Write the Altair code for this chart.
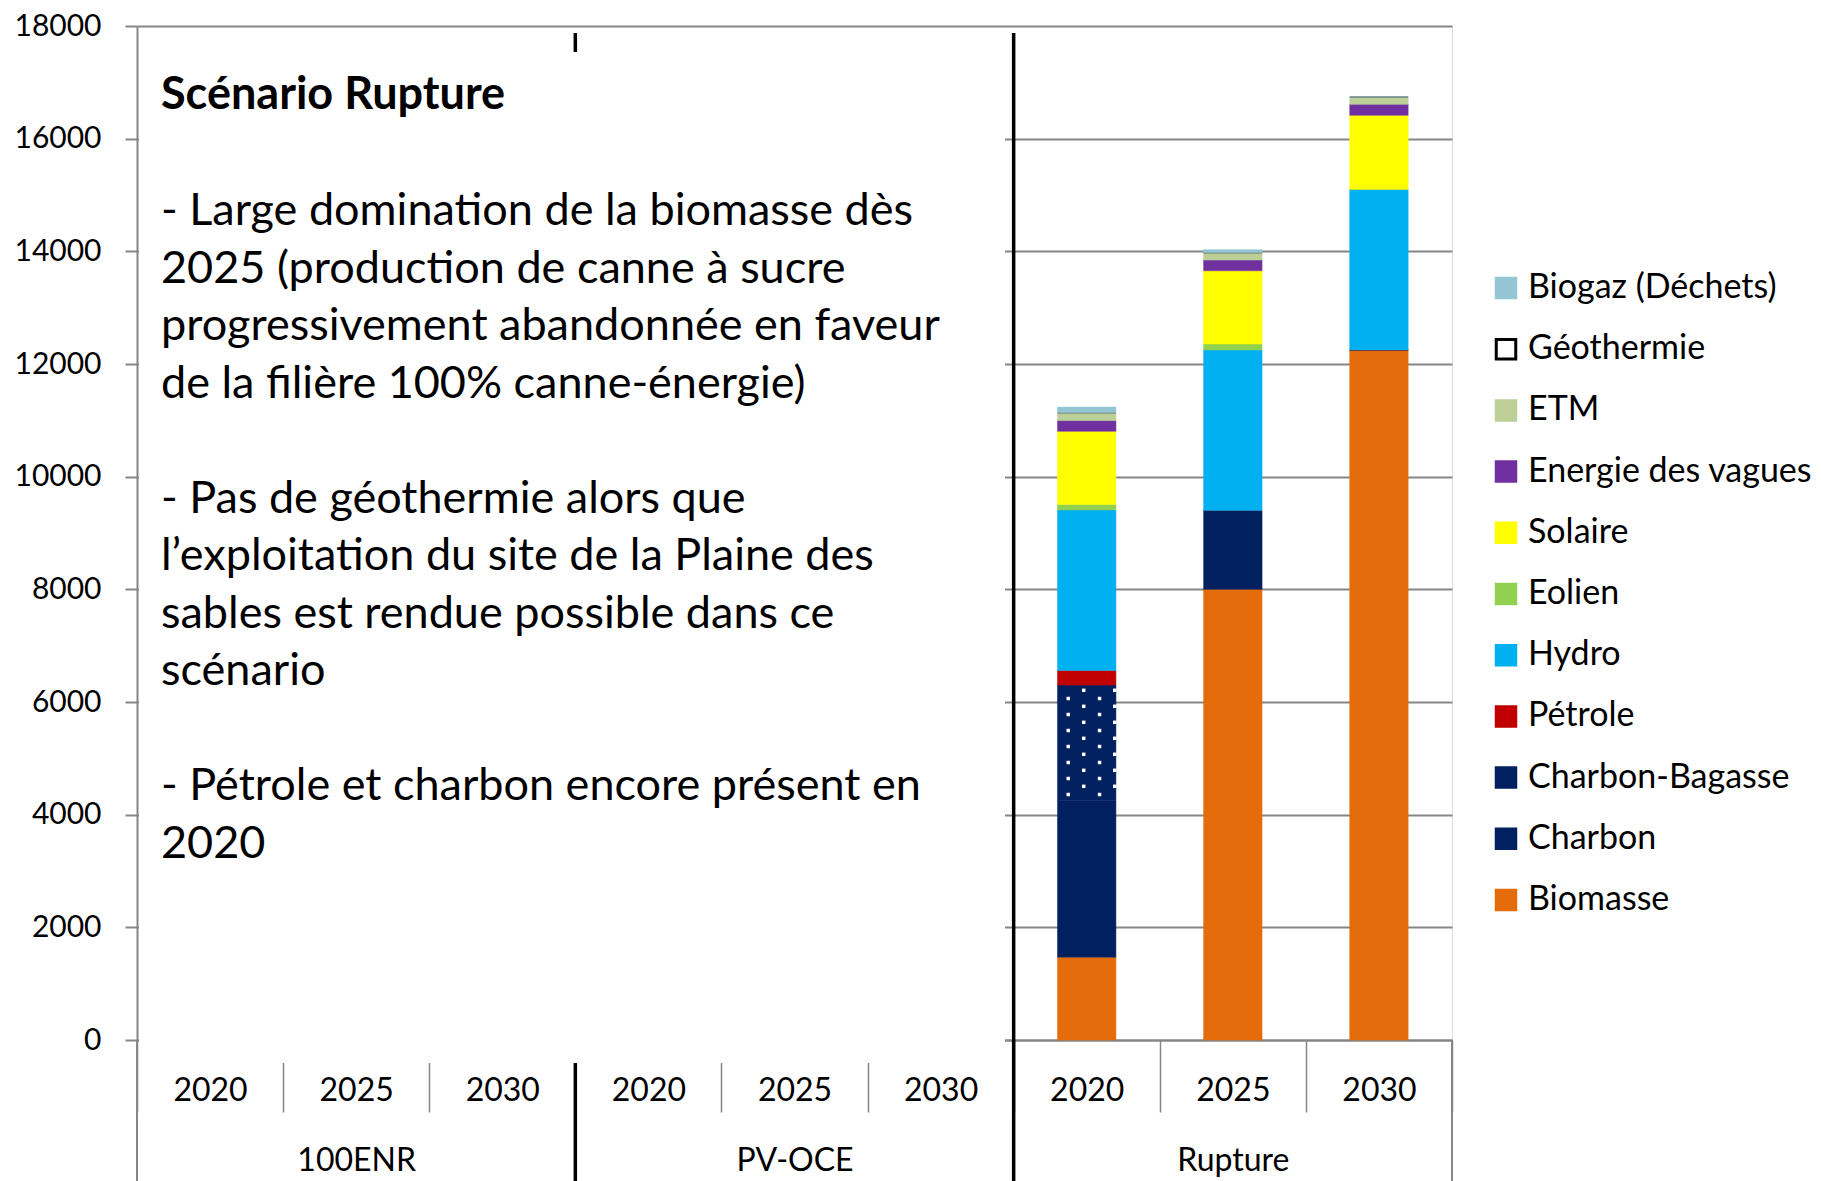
import altair as alt
import pandas as pd

# ---------------- data ----------------
groups = ["100ENR", "PV-OCE", "Rupture"]
years = ["2020", "2025", "2030"]

# stack order, bottom to top
sources = ["Biomasse", "Charbon", "Charbon-Bagasse", "Pétrole", "Hydro", "Eolien",
           "Solaire", "Energie des vagues", "ETM", "Géothermie", "Biogaz (Déchets)"]
fill_colors = ["#E46C0A", "#002060", "#002060", "#C00000", "#00B0F0", "#92D050",
               "#FFFF00", "#7030A0", "#BBCF97", "#FFFFFF", "#93C5D5"]
stroke_colors = ["#E46C0A", "#002060", "#002060", "#C00000", "#00B0F0", "#92D050",
                 "#FFFF00", "#7030A0", "#BBCF97", "#000000", "#93C5D5"]

rupture_2020 = [1470, 2775, 2055, 260, 2850, 95, 1300, 190, 140, 0, 100]
rupture_2025 = [8000, 1400, 0, 0, 2850, 105, 1300, 190, 130, 0, 55]
rupture_2030 = [12250, 0, 0, 0, 2850, 0, 1315, 195, 130, 0, 0]

y_ticks = [0, 2000, 4000, 6000, 8000, 10000, 12000, 14000, 16000, 18000]

title_text = "Scénario Rupture"
paragraphs = [
    ["- Large domination de la biomasse dès",
     "2025 (production de canne à sucre",
     "progressivement abandonnée en faveur",
     "de la filière 100% canne-énergie)"],
    ["- Pas de géothermie alors que",
     "l’exploitation du site de la Plaine des",
     "sables est rendue possible dans ce",
     "scénario"],
    ["- Pétrole et charbon encore présent en",
     "2020"],
]

# ---------------- layout constants ----------------
W, H = 1315, 1014
TOP = 18
FONT = "Lato"
GRID = "#868686"
LINE_H = 57.5

keys = [f"{g}|{y}" for g in groups for y in years]

rows = []
for yr, vals in zip(years, [rupture_2020, rupture_2025, rupture_2030]):
    for i, (s, v) in enumerate(zip(sources, vals)):
        rows.append({"key": f"Rupture|{yr}", "source": s, "value": v, "idx": i})
df = pd.DataFrame(rows)

# dotted texture of the Charbon-Bagasse segment (2020)
px_per_unit = H / 18000.0
bag_lo = rupture_2020[0] + rupture_2020[1]
bag_hi = bag_lo + rupture_2020[2]
seg_px = rupture_2020[2] * px_per_unit
dot_layers_data = []
for col_off, start in [(-18.5, 13.4), (-3, 5.2), (12.8, 13.4), (28.0, 5.2)]:
    ys = []
    o = start
    while o <= seg_px + 1:
        ys.append(bag_hi - o / px_per_unit)
        o += 16
    dot_layers_data.append((col_off, pd.DataFrame({"key": "Rupture|2020", "y": ys})))

x_scale = alt.Scale(domain=keys, paddingInner=0, paddingOuter=0)
y_scale = alt.Scale(domain=[0, 18000], nice=False)

label_expr = ("split(datum.value, '|')[1] == '2025' ? "
              "[split(datum.value, '|')[1], split(datum.value, '|')[0]] : "
              "[split(datum.value, '|')[1], '']")

x_enc = alt.X("key:N", scale=x_scale, title=None,
              axis=alt.Axis(labelExpr=label_expr, labelAngle=0, tickBand="extent",
                            tickSize=72, tickColor=GRID, tickWidth=1.5,
                            domainColor=GRID, domainWidth=2, labelPadding=-37,
                            labelFont=FONT, labelFontSize=32, labelColor="black",
                            labelLineHeight=70, labelBaseline="top"))
y_enc = alt.Y("value:Q", scale=y_scale, stack="zero", title=None,
              axis=alt.Axis(values=y_ticks, format="d", grid=True, gridColor=GRID,
                            gridWidth=2, domainColor=GRID, domainWidth=2,
                            tickColor=GRID, tickSize=12, tickWidth=2, labelFont=FONT,
                            labelFontSize=30, labelColor="black", labelPadding=24))

legend_domain = sources[::-1]
bars = alt.Chart(df).mark_bar(width=alt.RelativeBandSize(0.4), strokeWidth=0.5).encode(
    x=x_enc,
    y=y_enc,
    fill=alt.Fill("source:N", title=None,
                  scale=alt.Scale(domain=legend_domain, range=fill_colors[::-1]),
                  legend=alt.Legend(orient="none", legendX=1352, legendY=245,
                                    symbolType="square", symbolSize=380,
                                    symbolStrokeWidth=3, labelFont=FONT,
                                    labelFontSize=34, labelColor="black",
                                    rowPadding=27.2, labelOffset=5, labelLimit=400)),
    stroke=alt.Stroke("source:N", title=None,
                      scale=alt.Scale(domain=legend_domain, range=stroke_colors[::-1])),
    order=alt.Order("idx:Q", sort="ascending"),
)

dot_layers = []
for off, ddf in dot_layers_data:
    dot_layers.append(
        alt.Chart(ddf).mark_square(size=12, color="white", opacity=1, xOffset=off)
        .encode(x=alt.X("key:N", scale=x_scale), y=alt.Y("y:Q", scale=y_scale))
    )

# group divider lines under the axis
div_df = pd.DataFrame({
    "key": ["100ENR|2020", "PV-OCE|2020", "Rupture|2020", "Rupture|2030"],
    "kind": ["gray", "black", "black", "gray"],
})
gray_div_r = alt.Chart(div_df[div_df.key == "Rupture|2030"]).mark_rule(color=GRID, strokeWidth=2).encode(
    x=alt.X("key:N", scale=x_scale, bandPosition=1),
    y=alt.value(H), y2=alt.value(H + 170),
)
gray_div_l = alt.Chart(div_df[div_df.key == "100ENR|2020"]).mark_rule(color=GRID, strokeWidth=2).encode(
    x=alt.X("key:N", scale=x_scale, bandPosition=0),
    y=alt.value(H), y2=alt.value(H + 170),
)
black_div = alt.Chart(div_df[div_df.kind == "black"]).mark_rule(color="black", strokeWidth=3.5).encode(
    x=alt.X("key:N", scale=x_scale, bandPosition=0),
    y=alt.value(7), y2=alt.value(H + 170),
)

one = pd.DataFrame({"a": [0]})
text_box = alt.Chart(one).mark_rect(color="white").encode(
    x=alt.value(2), x2=alt.value(868), y=alt.value(26), y2=alt.value(1037),
)
title_mark = alt.Chart(one).mark_text(
    text=title_text, font=FONT, fontSize=45, fontWeight="bold", color="black",
    align="left", baseline="alphabetic",
).encode(x=alt.value(24), y=alt.value(83))

para_marks = []
line_no = 0
for para in paragraphs:
    para_marks.append(
        alt.Chart(one).mark_text(
            text=para, font=FONT, fontSize=45, color="black", align="left",
            baseline="alphabetic", lineHeight=LINE_H,
        ).encode(x=alt.value(24), y=alt.value(199 + line_no * LINE_H))
    )
    line_no += len(para) + 1

chart = alt.layer(
    bars, *dot_layers, gray_div_l, gray_div_r, black_div, text_box, title_mark, *para_marks
).resolve_scale(x="shared", y="shared").properties(
    width=W, height=H,
    autosize=alt.AutoSizeParams(type="none"),
    padding={"left": 129, "top": TOP, "right": 359, "bottom": 150},
).configure_view(stroke=None).configure(background="white")

chart.save("out.html", embed_options={"renderer": "svg", "actions": False})
